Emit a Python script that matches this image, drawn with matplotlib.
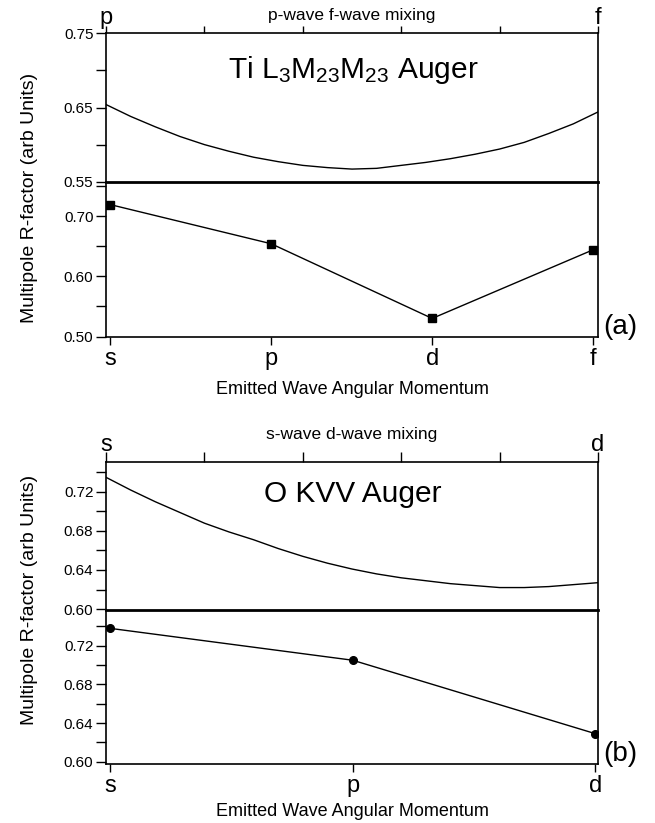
import numpy as np
import matplotlib
matplotlib.use("Agg")
import matplotlib.pyplot as plt
from matplotlib.ticker import FixedLocator, FormatStrFormatter

plt.rcParams["font.family"] = ["Liberation Sans", "DejaVu Sans"]
plt.rcParams["mathtext.fontset"] = "custom"
plt.rcParams["mathtext.rm"] = "Liberation Sans"
plt.rcParams["mathtext.it"] = "Liberation Sans"

# mixing curves (fraction of second wave, R-factor)
mix = [0.00, 0.05, 0.10, 0.15, 0.20, 0.25, 0.30, 0.35, 0.40, 0.45, 0.50,
       0.55, 0.60, 0.65, 0.70, 0.75, 0.80, 0.85, 0.90, 0.95, 1.00]
r_ti_mix = [0.654, 0.638, 0.624, 0.611, 0.600, 0.591, 0.583, 0.577, 0.572, 0.569, 0.567,
            0.568, 0.572, 0.576, 0.581, 0.587, 0.594, 0.603, 0.615, 0.628, 0.644]
r_o_mix = [0.735, 0.722, 0.710, 0.699, 0.688, 0.679, 0.671, 0.662, 0.654, 0.647, 0.641,
           0.636, 0.632, 0.629, 0.626, 0.624, 0.622, 0.622, 0.623, 0.625, 0.627]

# single partial waves
ti_waves = ["s", "p", "d", "f"]
r_ti = [0.719, 0.654, 0.530, 0.644]
o_waves = ["s", "p", "d"]
r_o = [0.738, 0.705, 0.629]

# y ticks (major labelled, minor unlabelled)
ti_top_major = [0.55, 0.65, 0.75]
ti_top_minor = [0.60, 0.70]
ti_bot_major = [0.50, 0.60, 0.70]
ti_bot_minor = [0.55, 0.65, 0.75]
o_top_major = [0.60, 0.64, 0.68, 0.72]
o_top_minor = [0.62, 0.66, 0.70, 0.74]
o_bot_major = [0.60, 0.64, 0.68, 0.72]
o_bot_minor = [0.62, 0.66, 0.70, 0.74]

W, H = 655, 823
fig = plt.figure(figsize=(W / 100, H / 100), dpi=100)


def box(x0, y0, x1, y1):
    return [x0 / W, 1 - y1 / H, (x1 - x0) / W, (y1 - y0) / H]


def ftext(x, y, s, **kw):
    fig.text(x / W, 1 - y / H, s, **kw)


def style_y(ax, major, minor):
    ax.yaxis.set_major_locator(FixedLocator(major))
    ax.yaxis.set_minor_locator(FixedLocator(minor))
    ax.tick_params(axis="y", which="both", direction="out", length=7, width=1, labelsize=11, pad=2)
    ax.yaxis.set_major_formatter(FormatStrFormatter("%.2f"))


def panel(ytop, ymid, ybot, mixx, mixy, ylim_top, ytick_top, left_lab, right_lab, mix_label,
          mix_off, top_len, top_pad, title, title_y, waves, vals, marker, xlim_bot, ylim_bot,
          ytick_bot, xlab_pad, tag, ylab_y):
    x0, x1 = 106, 598
    ax1 = fig.add_axes(box(x0, ytop, x1, ymid))
    ax2 = fig.add_axes(box(x0, ymid, x1, ybot))
    ax2.patch.set_visible(False)
    for a in (ax1, ax2):
        for sp in a.spines.values():
            sp.set_linewidth(1.2)
    ax1.spines["bottom"].set_linewidth(2.0)
    ax2.spines["top"].set_visible(False)

    ax1.plot(mixx, mixy, color="black", lw=1.0)
    ax1.set_xlim(0, 1)
    ax1.set_ylim(*ylim_top)
    style_y(ax1, *ytick_top)
    ax1.xaxis.tick_top()
    ax1.set_xticks(np.linspace(0, 1, 6))
    ax1.set_xticklabels([left_lab, "", "", "", "", right_lab])
    ax1.tick_params(axis="x", direction="out", length=top_len, width=1, labelsize=17,
                    pad=top_pad)
    ftext(352, ytop - mix_off, mix_label, fontsize=12.5, ha="center", va="center")
    ax1.text(0.502, title_y, title, transform=ax1.transAxes, ha="center", va="center",
             fontsize=21.5)

    xs = np.arange(len(waves))
    ax2.plot(xs, vals, color="black", lw=1.0, marker=marker, ms=5.5)
    ax2.set_xlim(*xlim_bot)
    ax2.set_ylim(*ylim_bot)
    style_y(ax2, *ytick_bot)
    ax2.set_xticks(xs)
    ax2.set_xticklabels(waves)
    ax2.tick_params(axis="x", direction="out", length=6, width=1, labelsize=17, pad=2)
    ax2.set_xlabel("Emitted Wave Angular Momentum", fontsize=13, labelpad=xlab_pad)
    ftext(620, ybot - 10, tag, fontsize=20, ha="center", va="center")
    ftext(30, ylab_y, "Multipole R-factor (arb Units)", fontsize=14,
          rotation=90, ha="center", va="center")
    return ax1, ax2


panel(33.3, 181.7, 336.5, mix, r_ti_mix, (0.55, 0.75), (ti_top_major, ti_top_minor), "p", "f",
      "p-wave f-wave mixing", 18, 5, -2, r"Ti L$_3$M$_{23}$M$_{23}$ Auger", 0.753,
      ti_waves, r_ti, "s", (-0.026, 3.03), (0.50, 0.757), (ti_bot_major, ti_bot_minor), 8,
      "(a)", 198)
panel(461.7, 610, 764, mix, r_o_mix, (0.599, 0.751), (o_top_major, o_top_minor), "s", "d",
      "s-wave d-wave mixing", 27, 7, -3, "O KVV Auger", 0.782,
      o_waves, r_o, "o", (-0.017, 2.011), (0.5976, 0.757), (o_bot_major, o_bot_minor), 4,
      "(b)", 600)

fig.savefig("out.png", dpi=100)
